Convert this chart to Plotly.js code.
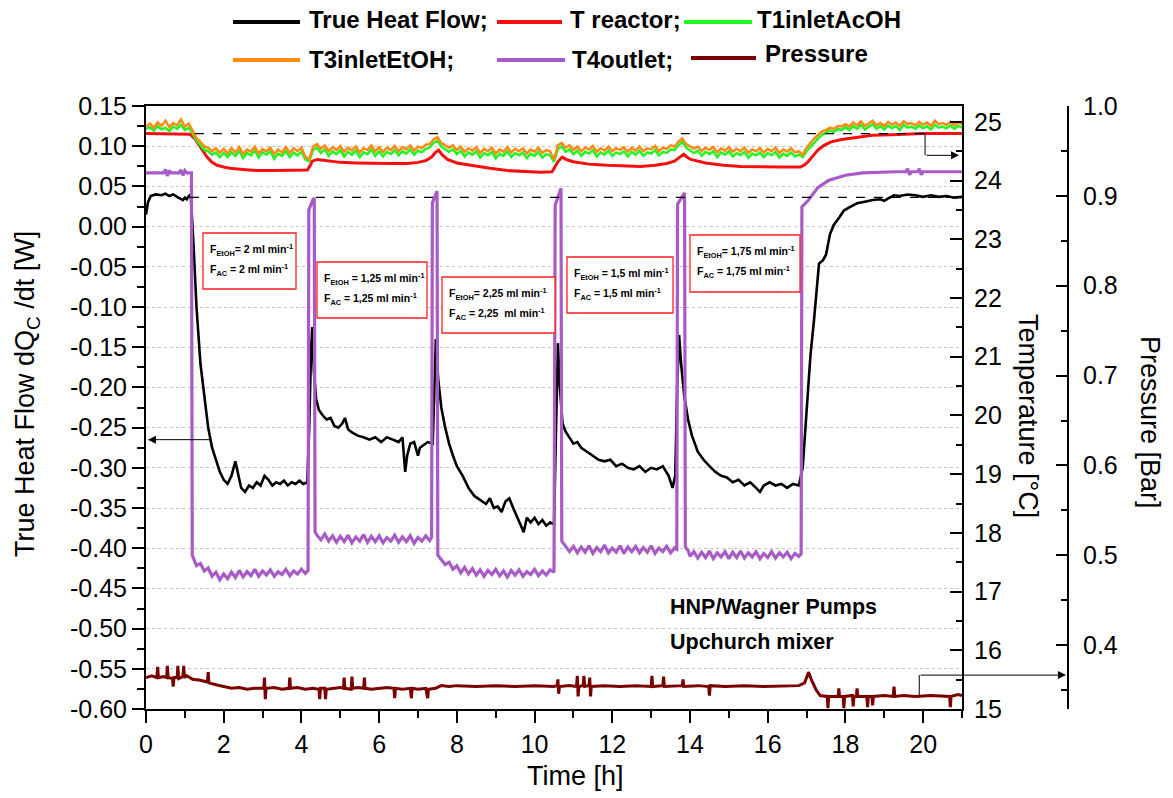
<!DOCTYPE html>
<html>
<head>
<meta charset="utf-8">
<script src="https://cdn.plot.ly/plotly-3.0.1.min.js"></script>
<style>html,body{margin:0;padding:0;background:#fff;}#chart{width:1173px;height:798px;}</style>
</head>
<body>
<div id="chart"></div>
<script>
// ---------------- DATA ----------------
const SERIES_NAMES = ["True Heat Flow;", "T reactor;", "T1inletAcOH", "T3inletEtOH;", "T4outlet;", "Pressure"];

// True Heat Flow (W), left axis
const HEAT_T = [
  0,0.05,0.12,0.25,0.4,0.5,0.6,0.7,0.8,0.9,0.95,1.0,1.05,1.1,1.15,
  1.22,1.3,1.4,1.5,1.6,1.7,1.8,1.9,2.0,2.1,2.2,2.3,2.38,2.45,2.55,2.65,2.75,2.85,2.95,3.05,3.15,3.25,3.35,3.45,3.55,3.65,3.75,3.85,3.95,4.05,4.15,
  4.2,4.25,4.28,4.32,4.38,4.45,4.55,4.65,4.75,4.85,4.95,5.05,5.12,5.2,5.3,5.45,5.6,5.75,5.9,6.05,6.2,6.35,6.5,6.6,6.67,6.72,6.8,6.9,7.0,7.05,7.15,7.25,7.38,
  7.42,7.46,7.52,7.6,7.7,7.8,7.9,8.0,8.15,8.3,8.45,8.6,8.75,8.85,8.95,9.05,9.15,9.25,9.35,9.45,9.55,9.65,9.72,9.8,9.9,10.0,10.1,10.2,10.3,10.4,10.5,
  10.55,10.6,10.65,10.72,10.8,10.9,11.0,11.1,11.2,11.35,11.5,11.65,11.8,11.95,12.1,12.25,12.4,12.55,12.7,12.85,13.0,13.15,13.3,13.45,13.55,13.62,
  13.67,13.72,13.77,13.85,13.95,14.05,14.2,14.35,14.5,14.65,14.8,14.95,15.1,15.25,15.4,15.55,15.7,15.8,15.9,16.05,16.2,16.35,16.5,16.65,16.8,
  16.9,17.0,17.1,17.19,17.27,17.32,17.42,17.5,17.6,17.7,17.85,17.96,18.1,18.3,18.5,18.7,18.9,19.0,19.1,19.25,19.4,19.6,19.8,20.0,20.2,20.4,20.6,20.8,21.0
];
const HEAT_V = [
  0.015,0.030,0.038,0.040,0.039,0.041,0.038,0.040,0.037,0.035,0.033,0.036,0.034,0.038,0.040,
  -0.02,-0.10,-0.17,-0.21,-0.25,-0.275,-0.29,-0.305,-0.315,-0.32,-0.31,-0.292,-0.31,-0.325,-0.33,-0.322,-0.325,-0.318,-0.322,-0.31,-0.315,-0.322,-0.318,-0.32,-0.316,-0.322,-0.318,-0.32,-0.316,-0.32,-0.318,
  -0.25,-0.15,-0.125,-0.18,-0.215,-0.228,-0.235,-0.24,-0.238,-0.248,-0.25,-0.245,-0.238,-0.252,-0.256,-0.26,-0.262,-0.265,-0.262,-0.268,-0.262,-0.265,-0.268,-0.262,-0.305,-0.285,-0.27,-0.268,-0.285,-0.275,-0.272,-0.268,-0.27,
  -0.2,-0.14,-0.19,-0.225,-0.25,-0.27,-0.285,-0.298,-0.31,-0.325,-0.335,-0.34,-0.345,-0.338,-0.35,-0.348,-0.355,-0.342,-0.338,-0.35,-0.36,-0.372,-0.38,-0.362,-0.368,-0.362,-0.37,-0.365,-0.372,-0.368,-0.37,
  -0.25,-0.145,-0.2,-0.245,-0.255,-0.262,-0.27,-0.268,-0.275,-0.28,-0.285,-0.29,-0.292,-0.29,-0.298,-0.295,-0.3,-0.302,-0.298,-0.305,-0.3,-0.302,-0.298,-0.31,-0.325,-0.31,
  -0.2,-0.135,-0.17,-0.21,-0.24,-0.26,-0.28,-0.29,-0.298,-0.305,-0.31,-0.312,-0.318,-0.315,-0.322,-0.318,-0.325,-0.33,-0.322,-0.318,-0.322,-0.32,-0.325,-0.32,-0.322,
  -0.3,-0.23,-0.16,-0.117,-0.07,-0.046,-0.042,-0.035,-0.01,0.002,0.012,0.02,0.024,0.029,0.031,0.033,0.034,0.032,0.035,0.039,0.038,0.04,0.039,0.037,0.039,0.037,0.038,0.036,0.037
];

// T reactor (°C)
const REACTOR_T = [0,0.5,1.0,1.13,1.25,1.34,1.45,1.57,1.7,1.83,2.0,2.16,2.5,2.86,3.3,3.71,4.0,4.15,4.22,4.28,4.41,4.7,5.0,5.4,5.85,6.3,6.73,7.0,7.2,7.35,7.45,7.53,7.62,7.76,8.0,8.43,8.85,9.3,9.7,10.15,10.45,10.52,10.6,10.71,10.85,11.0,11.4,11.88,12.3,12.73,13.1,13.4,13.6,13.75,13.84,13.92,14.02,14.4,14.87,15.3,15.75,16.3,16.84,16.95,17.04,17.15,17.29,17.45,17.63,17.9,18.32,18.7,19.18,20.0,21.0];
const REACTOR_V = [24.80,24.80,24.80,24.79,24.72,24.63,24.52,24.40,24.31,24.26,24.23,24.21,24.19,24.17,24.17,24.17,24.17,24.18,24.25,24.33,24.36,24.33,24.31,24.30,24.29,24.29,24.29,24.31,24.34,24.40,24.48,24.52,24.44,24.36,24.30,24.25,24.21,24.17,24.15,24.14,24.15,24.22,24.32,24.40,24.35,24.32,24.28,24.26,24.25,24.24,24.26,24.29,24.33,24.40,24.45,24.40,24.36,24.30,24.26,24.24,24.23,24.23,24.23,24.27,24.32,24.41,24.52,24.60,24.66,24.70,24.74,24.77,24.78,24.80,24.80];

// common time base (h) for the inlet thermocouples
const INLET_T = [
  0,0.1,0.2,0.3,0.4,0.5,0.6,0.7,0.8,0.9,
  1.0,1.1,1.2,1.3,1.4,1.5,1.6,1.7,1.8,1.9,
  2.0,2.1,2.2,2.3,2.4,2.5,2.6,2.7,2.8,2.9,
  3.0,3.1,3.2,3.3,3.4,3.5,3.6,3.7,3.8,3.9,
  4.0,4.1,4.2,4.3,4.4,4.5,4.6,4.7,4.8,4.9,
  5.0,5.1,5.2,5.3,5.4,5.5,5.6,5.7,5.8,5.9,
  6.0,6.1,6.2,6.3,6.4,6.5,6.6,6.7,6.8,6.9,
  7.0,7.1,7.2,7.3,7.4,7.5,7.6,7.7,7.8,7.9,
  8.0,8.1,8.2,8.3,8.4,8.5,8.6,8.7,8.8,8.9,
  9.0,9.1,9.2,9.3,9.4,9.5,9.6,9.7,9.8,9.9,
  10.0,10.1,10.2,10.3,10.4,10.5,10.6,10.7,10.8,10.9,
  11.0,11.1,11.2,11.3,11.4,11.5,11.6,11.7,11.8,11.9,
  12.0,12.1,12.2,12.3,12.4,12.5,12.6,12.7,12.8,12.9,
  13.0,13.1,13.2,13.3,13.4,13.5,13.6,13.7,13.8,13.9,
  14.0,14.1,14.2,14.3,14.4,14.5,14.6,14.7,14.8,14.9,
  15.0,15.1,15.2,15.3,15.4,15.5,15.6,15.7,15.8,15.9,
  16.0,16.1,16.2,16.3,16.4,16.5,16.6,16.7,16.8,16.9,
  17.0,17.1,17.2,17.3,17.4,17.5,17.6,17.7,17.8,17.9,
  18.0,18.1,18.2,18.3,18.4,18.5,18.6,18.7,18.8,18.9,
  19.0,19.1,19.2,19.3,19.4,19.5,19.6,19.7,19.8,19.9,
  20.0,20.1,20.2,20.3,20.4,20.5,20.6,20.7,20.8,20.9,
  21.0
];
// T1inletAcOH (°C)
const ACOH_V = [
  24.88,24.91,24.85,24.93,24.87,24.90,24.84,24.92,24.88,24.95,
  24.86,24.90,24.80,24.68,24.60,24.52,24.50,24.44,24.48,24.40,
  24.47,24.40,24.48,24.42,24.50,24.38,24.47,24.43,24.51,24.39,
  24.48,24.44,24.50,24.37,24.46,24.42,24.50,24.40,24.48,24.43,
  24.49,24.36,24.33,24.52,24.56,24.47,24.53,24.42,24.50,24.45,
  24.52,24.41,24.49,24.44,24.51,24.40,24.48,24.45,24.53,24.42,
  24.50,24.41,24.49,24.45,24.52,24.43,24.50,24.46,24.53,24.44,
  24.51,24.48,24.54,24.56,24.64,24.68,24.58,24.53,24.49,24.53,
  24.45,24.51,24.41,24.48,24.44,24.50,24.39,24.47,24.43,24.49,
  24.38,24.46,24.42,24.50,24.40,24.47,24.43,24.48,24.38,24.46,
  24.42,24.49,24.39,24.45,24.43,24.32,24.54,24.58,24.49,24.53,
  24.45,24.51,24.42,24.49,24.46,24.52,24.41,24.48,24.44,24.51,
  24.42,24.48,24.45,24.50,24.41,24.49,24.44,24.51,24.42,24.48,
  24.46,24.52,24.43,24.49,24.47,24.53,24.52,24.60,24.66,24.56,
  24.51,24.47,24.51,24.42,24.49,24.45,24.50,24.40,24.48,24.44,
  24.50,24.41,24.47,24.43,24.49,24.39,24.46,24.43,24.48,24.40,
  24.47,24.43,24.49,24.39,24.46,24.42,24.48,24.41,24.44,24.40,
  24.50,24.58,24.66,24.72,24.78,24.81,24.85,24.83,24.88,24.86,
  24.91,24.86,24.93,24.88,24.95,24.87,24.92,24.96,24.88,24.93,
  24.87,24.94,24.89,24.93,24.86,24.95,24.90,24.92,24.88,24.94,
  24.89,24.93,24.87,24.95,24.90,24.92,24.89,24.94,24.88,24.93,
  24.90
];
// T3inletEtOH (°C)
const ETOH_V = [
  24.92,24.97,24.90,24.99,24.93,25.02,24.91,24.98,24.94,25.04,
  24.92,24.97,24.85,24.72,24.66,24.58,24.56,24.50,24.55,24.47,
  24.54,24.46,24.55,24.48,24.57,24.45,24.53,24.49,24.58,24.46,
  24.54,24.50,24.56,24.45,24.53,24.48,24.57,24.47,24.55,24.50,
  24.56,24.40,24.36,24.58,24.62,24.54,24.60,24.50,24.57,24.52,
  24.59,24.49,24.56,24.51,24.58,24.48,24.55,24.52,24.60,24.50,
  24.57,24.49,24.56,24.52,24.59,24.50,24.57,24.53,24.60,24.51,
  24.58,24.55,24.61,24.62,24.70,24.74,24.64,24.60,24.56,24.60,
  24.52,24.58,24.49,24.55,24.51,24.57,24.47,24.54,24.50,24.56,
  24.46,24.53,24.49,24.57,24.48,24.54,24.50,24.55,24.46,24.53,
  24.49,24.56,24.47,24.52,24.50,24.36,24.60,24.64,24.56,24.60,
  24.52,24.58,24.50,24.56,24.53,24.59,24.49,24.55,24.51,24.58,
  24.50,24.55,24.52,24.57,24.49,24.56,24.51,24.58,24.50,24.55,
  24.53,24.59,24.50,24.56,24.54,24.60,24.58,24.66,24.72,24.62,
  24.58,24.54,24.58,24.50,24.56,24.52,24.57,24.48,24.55,24.51,
  24.57,24.49,24.54,24.50,24.56,24.47,24.53,24.50,24.55,24.48,
  24.54,24.50,24.56,24.47,24.53,24.49,24.55,24.48,24.50,24.44,
  24.56,24.64,24.72,24.78,24.84,24.86,24.90,24.88,24.93,24.92,
  24.96,24.92,24.99,24.94,25.01,24.93,24.97,25.02,24.94,24.98,
  24.93,25.00,24.95,24.99,24.93,25.01,24.96,24.98,24.94,25.00,
  24.95,24.99,24.93,25.02,24.96,24.98,24.95,25.00,24.94,24.99,
  24.96
];

// T4outlet (°C)
const OUTLET_T = [
  0,0.3,0.45,0.5,0.55,0.6,0.65,0.85,0.9,0.95,1.0,1.05,1.17,
  1.19,1.25,1.3,1.4,1.5,1.6,1.7,1.8,1.9,2.0,2.1,2.2,2.3,2.4,2.5,2.6,2.7,2.8,2.9,3.0,3.1,3.2,3.3,3.4,3.5,3.6,3.7,3.8,3.9,4.0,4.1,4.17,
  4.19,4.3,4.33,4.35,4.4,4.5,4.6,4.7,4.8,4.9,5.0,5.1,5.2,5.3,5.4,5.5,5.6,5.7,5.8,5.9,6.0,6.1,6.2,6.3,6.4,6.5,6.6,6.7,6.8,6.9,7.0,7.1,7.2,7.3,7.35,
  7.37,7.46,7.49,7.51,7.6,7.7,7.8,7.9,8.0,8.1,8.2,8.3,8.4,8.5,8.6,8.7,8.8,8.9,9.0,9.1,9.2,9.3,9.4,9.5,9.6,9.7,9.8,9.9,10.0,10.1,10.2,10.3,10.4,10.5,
  10.53,10.65,10.68,10.70,10.8,10.9,11.0,11.1,11.2,11.3,11.4,11.5,11.6,11.7,11.8,11.9,12.0,12.1,12.2,12.3,12.4,12.5,12.6,12.7,12.8,12.9,13.0,13.1,13.2,13.3,13.4,13.5,13.6,13.66,
  13.68,13.83,13.86,13.88,13.95,14.0,14.1,14.2,14.3,14.4,14.5,14.6,14.7,14.8,14.9,15.0,15.1,15.2,15.3,15.4,15.5,15.6,15.7,15.8,15.9,16.0,16.1,16.2,16.3,16.4,16.5,16.6,16.7,16.8,16.86,
  16.88,17.04,17.29,17.56,18.0,18.45,19.3,19.55,19.6,19.65,19.7,19.85,19.9,19.95,20.0,21.0
];
const OUTLET_V = [
  24.13,24.13,24.13,24.19,24.08,24.17,24.13,24.13,24.18,24.09,24.17,24.13,24.13,
  17.62,17.52,17.44,17.48,17.35,17.40,17.26,17.33,17.20,17.30,17.22,17.33,17.24,17.36,17.25,17.34,17.27,17.38,17.26,17.35,17.28,17.37,17.26,17.34,17.29,17.38,17.27,17.35,17.30,17.38,17.31,17.36,
  23.50,23.68,23.70,18.02,17.96,17.88,17.98,17.86,17.95,17.84,17.94,17.85,17.96,17.83,17.93,17.86,17.97,17.84,17.94,17.85,17.95,17.83,17.92,17.86,17.96,17.84,17.93,17.85,17.95,17.82,17.92,17.86,17.95,17.87,17.92,
  23.62,23.80,23.82,17.62,17.55,17.46,17.50,17.38,17.44,17.32,17.41,17.30,17.39,17.28,17.37,17.26,17.36,17.29,17.38,17.27,17.35,17.25,17.36,17.28,17.37,17.26,17.34,17.29,17.38,17.27,17.35,17.28,17.37,17.33,
  23.58,23.85,23.87,17.86,17.78,17.68,17.77,17.66,17.76,17.67,17.78,17.65,17.75,17.68,17.79,17.66,17.74,17.67,17.78,17.65,17.76,17.68,17.77,17.66,17.75,17.67,17.78,17.65,17.74,17.68,17.77,17.66,17.74,17.72,
  23.60,23.78,23.79,17.76,17.70,17.60,17.68,17.57,17.67,17.58,17.69,17.56,17.66,17.59,17.68,17.56,17.67,17.58,17.69,17.57,17.66,17.59,17.68,17.56,17.65,17.58,17.68,17.57,17.66,17.59,17.67,17.56,17.65,17.60,17.64,
  23.55,23.66,23.88,24.00,24.09,24.13,24.15,24.15,24.20,24.10,24.15,24.15,24.20,24.10,24.15,24.15
];

// Pressure (bar)
const PRESS_T = [
  0.0,0.15,0.28,0.30,0.32,0.45,0.53,0.55,0.57,0.68,0.70,0.72,0.80,0.82,0.84,0.95,0.97,0.99,1.05,1.2,1.4,1.58,1.60,1.62,1.8,2.0,
  2.2,2.4,2.6,2.8,3.03,3.05,3.07,3.09,3.3,3.5,3.68,3.70,3.72,3.9,4.1,4.3,4.45,4.47,4.49,4.6,4.62,4.64,4.8,5.0,5.08,5.10,5.12,5.28,5.30,5.32,5.45,5.60,5.62,5.64,5.8,6.0,6.2,6.38,6.40,6.42,6.6,6.8,6.83,6.85,7.0,7.2,7.25,7.27,7.45,
  7.6,7.8,8.0,8.5,9.0,9.5,10.0,10.5,10.58,10.60,10.62,10.64,10.9,11.08,11.10,11.12,11.14,11.25,11.27,11.29,11.40,11.42,11.44,11.46,11.8,12.2,12.6,13.0,13.02,13.04,13.3,13.32,13.34,13.6,13.8,13.82,13.84,14.2,14.48,14.50,14.52,14.9,15.4,15.9,16.4,16.8,16.95,17.05,17.12,17.25,17.35,
  17.53,17.55,17.57,17.81,17.83,17.85,17.94,17.96,17.98,18.18,18.20,18.22,18.28,18.30,18.32,18.55,18.57,18.59,18.68,18.70,18.72,19.0,19.23,19.25,19.27,19.5,19.8,20.2,20.6,20.68,20.70,20.72,20.9,21.0
];
const PRESS_V = [
  0.364,0.366,0.364,0.376,0.364,0.365,0.364,0.377,0.364,0.363,0.354,0.364,0.364,0.377,0.363,0.365,0.377,0.364,0.366,0.362,0.361,0.359,0.370,0.358,0.356,0.354,
  0.352,0.353,0.351,0.352,0.352,0.364,0.340,0.352,0.353,0.351,0.352,0.364,0.352,0.353,0.351,0.352,0.351,0.340,0.352,0.352,0.340,0.351,0.352,0.353,0.352,0.364,0.352,0.351,0.365,0.352,0.353,0.352,0.364,0.352,0.351,0.352,0.353,0.352,0.341,0.352,0.351,0.352,0.341,0.352,0.351,0.352,0.341,0.351,0.352,
  0.355,0.354,0.355,0.354,0.355,0.354,0.355,0.354,0.355,0.362,0.346,0.354,0.355,0.354,0.366,0.343,0.354,0.355,0.366,0.354,0.355,0.364,0.343,0.354,0.355,0.354,0.355,0.354,0.366,0.354,0.355,0.365,0.354,0.355,0.355,0.362,0.354,0.355,0.354,0.344,0.355,0.354,0.355,0.354,0.355,0.355,0.358,0.370,0.362,0.350,0.344,
  0.343,0.330,0.343,0.343,0.352,0.343,0.343,0.330,0.343,0.344,0.332,0.343,0.343,0.352,0.343,0.343,0.331,0.343,0.343,0.333,0.343,0.344,0.343,0.354,0.343,0.344,0.343,0.344,0.343,0.343,0.331,0.343,0.345,0.344
];

// tick labels
const HEAT_TICK_VALS = [0.15,0.10,0.05,0.00,-0.05,-0.10,-0.15,-0.20,-0.25,-0.30,-0.35,-0.40,-0.45,-0.50,-0.55,-0.60];
const HEAT_TICK_TEXT = ["0.15","0.10","0.05","0.00","-0.05","-0.10","-0.15","-0.20","-0.25","-0.30","-0.35","-0.40","-0.45","-0.50","-0.55","-0.60"];

// flow-rate boxes
const BOX_LINE1 = ["F<sub>EtOH</sub>= 2 ml min<sup>-1</sup>", "F<sub>EtOH</sub> = 1,25 ml min<sup>-1</sup>", "F<sub>EtOH</sub>= 2,25 ml min<sup>-1</sup>", "F<sub>EtOH</sub> = 1,5 ml min<sup>-1</sup>", "F<sub>EtOH</sub>= 1,75 ml min<sup>-1</sup>"];
const BOX_LINE2 = ["F<sub>AC</sub> = 2 ml min<sup>-1</sup>", "F<sub>AC</sub> = 1,25 ml min<sup>-1</sup>", "F<sub>AC</sub> = 2,25  ml min<sup>-1</sup>", "F<sub>AC</sub> = 1,5 ml min<sup>-1</sup>", "F<sub>AC</sub> = 1,75 ml min<sup>-1</sup>"];

// ---------------- LAYOUT HELPERS ----------------
const L = 146, PW = 922, PT = 106, PH = 603;
const fx = px => (px - L) / PW;
const fy = py => (PT + PH - py) / PH;
const XDOM = (962 - L) / PW;

const COLORS = {heat:'#000000', reactor:'#f50f0f', acoh:'#22f522', etoh:'#ff8a14', outlet:'#a85bc6', press:'#7a0000'};
const SANS = 'Liberation Sans, Arial, sans-serif';

const traces = [
  {x: HEAT_T, y: HEAT_V, name: SERIES_NAMES[0], type:'scatter', mode:'lines', yaxis:'y', line:{color:COLORS.heat, width:2.6}},
  {x: REACTOR_T, y: REACTOR_V, name: SERIES_NAMES[1], type:'scatter', mode:'lines', yaxis:'y2', line:{color:COLORS.reactor, width:3}},
  {x: INLET_T, y: ACOH_V, name: SERIES_NAMES[2], type:'scatter', mode:'lines', yaxis:'y2', line:{color:COLORS.acoh, width:2.5}},
  {x: INLET_T, y: ETOH_V, name: SERIES_NAMES[3], type:'scatter', mode:'lines', yaxis:'y2', line:{color:COLORS.etoh, width:2.5}},
  {x: OUTLET_T, y: OUTLET_V, name: SERIES_NAMES[4], type:'scatter', mode:'lines', yaxis:'y2', line:{color:COLORS.outlet, width:3.2}},
  {x: PRESS_T, y: PRESS_V, name: SERIES_NAMES[5], type:'scatter', mode:'lines', yaxis:'y3', line:{color:COLORS.press, width:3}}
];

const shapes = [];
const annotations = [];

// manual legend
const LEG = [
  {x0:233, x1:300, y:22, tx:307, ty:20, c:COLORS.heat, i:0},
  {x0:497, x1:562, y:22, tx:568, ty:20, c:COLORS.reactor, i:1},
  {x0:684, x1:752, y:22, tx:755, ty:20, c:COLORS.acoh, i:2},
  {x0:233, x1:300, y:60, tx:307, ty:60, c:COLORS.etoh, i:3},
  {x0:497, x1:565, y:60, tx:570, ty:60, c:COLORS.outlet, i:4},
  {x0:691, x1:756, y:58, tx:763, ty:54, c:COLORS.press, i:5}
];
LEG.forEach(g => {
  shapes.push({type:'line', xref:'paper', yref:'paper', x0:fx(g.x0), x1:fx(g.x1), y0:fy(g.y), y1:fy(g.y), line:{color:g.c, width:4}});
  annotations.push({xref:'paper', yref:'paper', x:fx(g.tx), y:fy(g.ty), xanchor:'left', yanchor:'middle', showarrow:false,
    text:'<b>'+SERIES_NAMES[g.i]+'</b>', font:{family:SANS, size:24, color:'#000'}});
});

// reference dashed lines
shapes.push({type:'line', xref:'x', yref:'y2', x0:1.26, x1:20.05, y0:24.80, y1:24.80, line:{color:'#000', width:1.3, dash:'dash'}});
shapes.push({type:'line', xref:'x', yref:'y', x0:1.13, x1:20.9, y0:0.0364, y1:0.0364, line:{color:'#000', width:1.3, dash:'dash'}});

// boxes
const BOXES = [[203,296,233,289],[317,427,262,318],[442,555,277,333],[567,673,257,313],[690,800,235,292]];
BOXES.forEach((b,k) => {
  shapes.push({type:'rect', xref:'paper', yref:'paper', x0:fx(b[0]), x1:fx(b[1]), y0:fy(b[3]), y1:fy(b[2]), line:{color:'#ff2020', width:1.3}, fillcolor:'#ffffff', layer:'above'});
  annotations.push({xref:'paper', yref:'paper', x:fx(b[0]+5), y:fy(b[2]+17), xanchor:'left', yanchor:'middle', showarrow:false, text:'<b>'+BOX_LINE1[k]+'</b>', font:{family:SANS, size:10.5, color:'#000'}});
  annotations.push({xref:'paper', yref:'paper', x:fx(b[0]+5), y:fy(b[2]+37), xanchor:'left', yanchor:'middle', showarrow:false, text:'<b>'+BOX_LINE2[k]+'</b>', font:{family:SANS, size:10.5, color:'#000'}});
});

// arrows
annotations.push({xref:'x', yref:'y', x:0.05, y:-0.265, ax:64, ay:0, axref:'pixel', ayref:'pixel', text:'', showarrow:true, arrowhead:2, arrowsize:1.6, arrowwidth:1, arrowcolor:'#000'});
shapes.push({type:'line', xref:'x', yref:'y2', x0:20.05, x1:20.05, y0:24.80, y1:24.43, line:{color:'#000', width:1}});
annotations.push({xref:'paper', yref:'y2', x:fx(959), y:24.43, ax:-34, ay:0, text:'', showarrow:true, arrowhead:2, arrowsize:1.6, arrowwidth:1, arrowcolor:'#000'});
shapes.push({type:'line', xref:'x', yref:'y3', x0:19.9, x1:19.9, y0:0.343, y1:0.3667, line:{color:'#000', width:1}});
annotations.push({xref:'paper', yref:'y3', x:fx(1066), y:0.3667, ax:-147, ay:0, text:'', showarrow:true, arrowhead:2, arrowsize:1.6, arrowwidth:1, arrowcolor:'#000'});

// titles / texts
annotations.push({xref:'paper', yref:'paper', x:fx(27), y:fy(394), textangle:-90, showarrow:false, xanchor:'center', yanchor:'middle',
  text:'True Heat Flow dQ<sub>C</sub> /dt [W]', font:{family:SANS, size:27, color:'#000'}});
annotations.push({xref:'paper', yref:'paper', x:fx(1028), y:fy(416), textangle:90, showarrow:false, xanchor:'center', yanchor:'middle',
  text:'Temperature [°C]', font:{family:SANS, size:27, color:'#000'}});
annotations.push({xref:'paper', yref:'paper', x:fx(1150), y:fy(422), textangle:90, showarrow:false, xanchor:'center', yanchor:'middle',
  text:'Pressure [Bar]', font:{family:SANS, size:27, color:'#000'}});
annotations.push({xref:'paper', yref:'paper', x:fx(575), y:fy(776), showarrow:false, xanchor:'center', yanchor:'middle',
  text:'Time [h]', font:{family:SANS, size:27, color:'#000'}});
annotations.push({xref:'paper', yref:'paper', x:fx(668), y:fy(607), showarrow:false, xanchor:'left', yanchor:'middle',
  text:'<b>HNP/Wagner Pumps</b>', font:{family:SANS, size:21.5, color:'#000'}});
annotations.push({xref:'paper', yref:'paper', x:fx(668), y:fy(642), showarrow:false, xanchor:'left', yanchor:'middle',
  text:'<b>Upchurch mixer</b>', font:{family:SANS, size:21.5, color:'#000'}});

const tickFont = {family:SANS, size:25, color:'#000'};

const layout = {
  width:1173, height:798,
  margin:{l:L, r:1173-L-PW, t:PT, b:798-PT-PH, pad:0},
  paper_bgcolor:'#fff', plot_bgcolor:'#fff',
  showlegend:false,
  xaxis:{domain:[0, XDOM], range:[0,21], tick0:0, dtick:2, ticks:'outside', ticklen:12, tickwidth:2, tickcolor:'#000',
    showline:true, linewidth:2, linecolor:'#000', mirror:true, showgrid:false, zeroline:false, tickfont:tickFont,
    minor:{tick0:1, dtick:2, ticks:'outside', ticklen:7, tickwidth:2, tickcolor:'#000', showgrid:false}},
  yaxis:{range:[-0.60,0.15], tickmode:'array', tickvals:HEAT_TICK_VALS, ticktext:HEAT_TICK_TEXT, ticks:'outside', ticklen:12, tickwidth:2, tickcolor:'#000',
    showline:true, linewidth:2, linecolor:'#000', showgrid:true, gridcolor:'#c4c4c4', griddash:'dot', gridwidth:1, zeroline:false, tickfont:tickFont,
    minor:{tickmode:'linear', tick0:0.125, dtick:0.05, ticks:'outside', ticklen:7, tickwidth:2, tickcolor:'#000', showgrid:false}},
  yaxis2:{overlaying:'y', side:'right', anchor:'x', range:[15,25.27], tick0:15, dtick:1, ticks:'inside', ticklen:12, tickwidth:2, tickcolor:'#000',
    showline:true, linewidth:2, linecolor:'#000', showgrid:false, zeroline:false, tickfont:tickFont, ticklabelstandoff:5,
    minor:{tick0:15.5, dtick:1, ticks:'inside', ticklen:6, tickwidth:2, tickcolor:'#000', showgrid:false}},
  yaxis3:{overlaying:'y', side:'right', anchor:'free', position:1, range:[0.329,1.0], tick0:0.4, dtick:0.1, tickformat:'.1f', ticks:'inside', ticklen:11, tickwidth:2, tickcolor:'#000',
    showline:true, linewidth:2, linecolor:'#000', showgrid:false, zeroline:false, tickfont:tickFont, ticklabelstandoff:9,
    minor:{tick0:0.35, dtick:0.1, ticks:'inside', ticklen:6, tickwidth:2, tickcolor:'#000', showgrid:false}},
  shapes: shapes,
  annotations: annotations
};

Plotly.newPlot('chart', traces, layout, {staticPlot:true, displayModeBar:false});
</script>
</body>
</html>
